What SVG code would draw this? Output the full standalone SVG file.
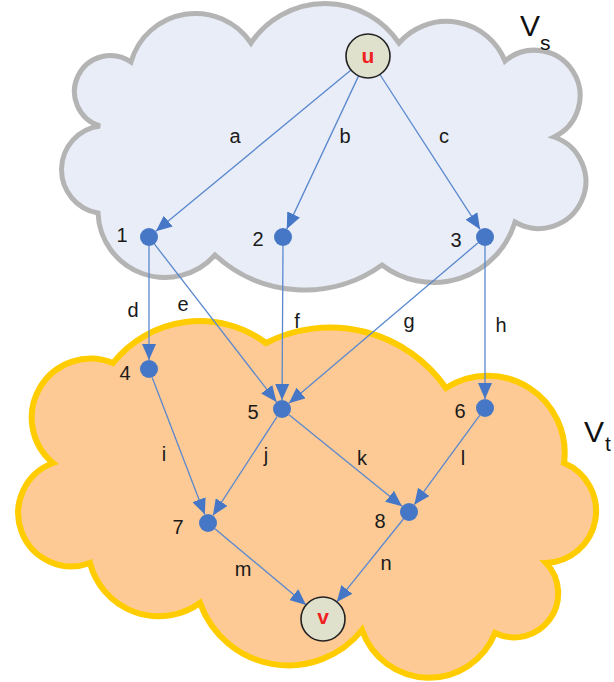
<svg xmlns="http://www.w3.org/2000/svg" width="614" height="682" viewBox="0 0 614 682">
<style>
.lbl{font-family:"Liberation Sans",Arial,sans-serif;font-size:20px;fill:#1a1a1a;text-anchor:middle}
.big{font-family:"Liberation Sans",Arial,sans-serif;fill:#111}
.term{font-family:"Liberation Sans",Arial,sans-serif;font-size:21px;font-weight:bold;fill:#f02020;text-anchor:middle}
.edge{stroke:#5a88cf;stroke-width:1.3;fill:none;marker-end:url(#ah)}
.dot{fill:#4677c6}
.tnode{fill:#dfe1cd;stroke:#222;stroke-width:1.6}
</style>
<defs>
<marker id="ah" viewBox="0 0 16 14" refX="16" refY="7" markerWidth="16" markerHeight="14" markerUnits="userSpaceOnUse" orient="auto">
<path d="M0,0 L16,7 L0,14 z" fill="#4677c6"/>
</marker>
</defs>
<g id="cloud-vt">
<path d="M113,363 A111,111 0 0 1 266,343 A141,141 0 0 1 446,388 A77,77 0 0 1 564,463 A52,52 0 0 1 546,563 A44,44 0 0 1 495,633 A71,71 0 0 1 362,630 A94,94 0 0 1 200,603 A71,71 0 0 1 90,563 A53,53 0 0 1 53,463 A59,59 0 0 1 113,363 Z" fill="#fdca95" stroke="#ffcc00" stroke-width="6" stroke-linejoin="miter"/>
</g>
<g id="cloud-vs">
<path d="M131,62 A67,67 0 0 1 251,43 A89,89 0 0 1 399,43 A63,63 0 0 1 505,61 A45.6,45.6 0 1 1 554,137 A47,47 0 1 1 515,222 A85,85 0 0 1 382,265 A132,132 0 0 1 215,255 A67,67 0 0 1 98,213 A44,44 0 0 1 100,126 A36,36 0 1 1 131,62 Z" fill="#e8edf7" stroke="#b4b4b4" stroke-width="5"/>
</g>
<g id="set-labels">
<text class="big" x="520" y="36" font-size="30">V</text><text class="big" x="540" y="50" font-size="21">s</text>
<text class="big" x="584" y="442" font-size="30">V</text><text class="big" x="605" y="451" font-size="21">t</text>
</g>
<g id="connectors">
<line class="edge" x1="351" y1="70" x2="155.9" y2="231.3"/>
<line class="edge" x1="358.6" y1="75.9" x2="286.8" y2="228.9"/>
<line class="edge" x1="379.9" y1="74.5" x2="480.1" y2="229.4"/>
<line class="edge" x1="149" y1="246" x2="149" y2="360"/>
<line class="edge" x1="154.5" y1="244.1" x2="276.5" y2="401.9"/>
<line class="edge" x1="283" y1="246" x2="282.05" y2="400"/>
<line class="edge" x1="478.1" y1="242.8" x2="288.9" y2="403.2"/>
<line class="edge" x1="485" y1="246" x2="485" y2="399"/>
<line class="edge" x1="152.2" y1="377.4" x2="204.8" y2="514.6"/>
<line class="edge" x1="277.1" y1="416.6" x2="212.9" y2="515.5"/>
<line class="edge" x1="289" y1="414.7" x2="402" y2="506.3"/>
<line class="edge" x1="479.7" y1="415.3" x2="414.3" y2="504.7"/>
<line class="edge" x1="214.9" y1="528.8" x2="306.1" y2="604.9"/>
<line class="edge" x1="403.4" y1="519" x2="336.8" y2="601.9"/>
<text class="lbl" x="235" y="143">a</text>
<text class="lbl" x="345" y="143">b</text>
<text class="lbl" x="444" y="143">c</text>
<text class="lbl" x="133" y="317">d</text>
<text class="lbl" x="183" y="311">e</text>
<text class="lbl" x="297" y="328">f</text>
<text class="lbl" x="409" y="328">g</text>
<text class="lbl" x="501" y="332">h</text>
<text class="lbl" x="164" y="461">i</text>
<text class="lbl" x="266" y="462">j</text>
<text class="lbl" x="362" y="465">k</text>
<text class="lbl" x="463" y="465">l</text>
<text class="lbl" x="243" y="576">m</text>
<text class="lbl" x="386" y="570">n</text>
</g>
<g id="node-u"><circle class="tnode" cx="368" cy="56" r="22"/><text class="term" x="368" y="63">u</text></g>
<g id="node-1"><circle class="dot" cx="149" cy="237" r="9"/><text class="lbl" x="122" y="242">1</text></g>
<g id="node-2"><circle class="dot" cx="283" cy="237" r="9"/><text class="lbl" x="258" y="246">2</text></g>
<g id="node-3"><circle class="dot" cx="485" cy="237" r="9"/><text class="lbl" x="456" y="247">3</text></g>
<g id="node-4"><circle class="dot" cx="149" cy="369" r="9"/><text class="lbl" x="125" y="380">4</text></g>
<g id="node-5"><circle class="dot" cx="282" cy="409" r="9"/><text class="lbl" x="253" y="419">5</text></g>
<g id="node-6"><circle class="dot" cx="485" cy="408" r="9"/><text class="lbl" x="460" y="418">6</text></g>
<g id="node-7"><circle class="dot" cx="208" cy="523" r="9"/><text class="lbl" x="178" y="534">7</text></g>
<g id="node-8"><circle class="dot" cx="409" cy="512" r="9"/><text class="lbl" x="380" y="528">8</text></g>
<g id="node-v"><circle class="tnode" cx="323" cy="619" r="22"/><text class="term" x="323" y="624">v</text></g>
</svg>
